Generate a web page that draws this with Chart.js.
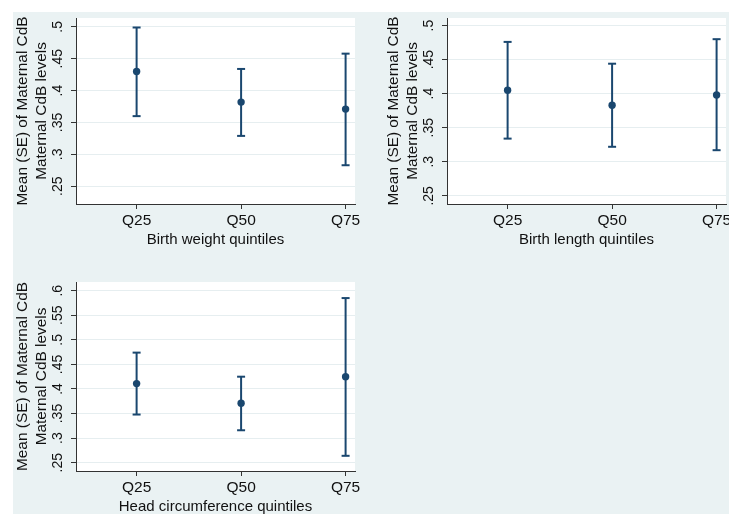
<!DOCTYPE html>
<html>
<head>
<meta charset="utf-8">
<script src="https://cdn.jsdelivr.net/npm/chart.js@4.4.0/dist/chart.umd.min.js"></script>
<style>
html, body { margin: 0; padding: 0; background: #fff; overflow: hidden; width: 729px; height: 514px; }
#bg { position: absolute; left: 13px; top: 12px; right: 0; bottom: 0; background: #eaf2f3; }
canvas { position: absolute; }
</style>
</head>
<body>
<div id="bg"></div>
<canvas id="c1" width="357" height="251" style="left:13px;top:12px"></canvas>
<canvas id="c2" width="360" height="251" style="left:384px;top:12px"></canvas>
<canvas id="c3" width="357" height="260" style="left:13px;top:270px"></canvas>
<script>
// categories on the x axis
const quintiles = ['Q25', 'Q50', 'Q75'];

// birth weight panel: mean and mean -/+ SE
const bwMean = [0.430, 0.382, 0.371];
const bwLow  = [0.360, 0.329, 0.283];
const bwHigh = [0.499, 0.434, 0.458];

// birth length panel
const blMean = [0.405, 0.383, 0.398];
const blLow  = [0.334, 0.322, 0.317];
const blHigh = [0.476, 0.444, 0.480];

// head circumference panel
const hcMean = [0.411, 0.371, 0.425];
const hcLow  = [0.348, 0.316, 0.264];
const hcHigh = [0.474, 0.425, 0.585];

// y tick values
const yTicksShort = [0.25, 0.3, 0.35, 0.4, 0.45, 0.5];
const yTicksLong  = [0.25, 0.3, 0.35, 0.4, 0.45, 0.5, 0.55, 0.6];

const navy = '#1a476f';
const axisColor = '#333';
const fontFamily = '"Liberation Sans", Arial, sans-serif';

// white plot region on the blue-grey graph background
const plotBg = {
    id: 'plotBg',
    beforeDraw(chart) {
        const {ctx, chartArea: a} = chart;
        ctx.save();
        ctx.fillStyle = '#fff';
        ctx.fillRect(a.left, a.top, a.right - a.left, a.bottom - a.top);
        ctx.restore();
    }
};

function makeChart(id, means, lows, highs, yTicks, yMin, yMax, xTitle, pad) {
    const datasets = [];
    // one dataset per whisker, caps drawn with the 'line' point style
    quintiles.forEach((q, i) => {
        datasets.push({
            data: [{x: i + 1, y: lows[i]}, {x: i + 1, y: highs[i]}],
            showLine: true,
            borderColor: navy,
            borderWidth: 2,
            pointStyle: 'line',
            pointRadius: 4,
            pointBorderWidth: 2,
            pointBorderColor: navy
        });
    });
    // means
    datasets.push({
        data: means.map((m, i) => ({x: i + 1, y: m})),
        showLine: false,
        pointStyle: 'circle',
        pointRadius: 3.7,
        pointBorderWidth: 0,
        pointBackgroundColor: navy
    });

    return new Chart(document.getElementById(id), {
        type: 'scatter',
        data: {datasets: datasets},
        plugins: [plotBg],
        options: {
            responsive: false,
            animation: false,
            events: [],
            layout: {padding: pad},
            plugins: {legend: {display: false}, tooltip: {enabled: false}},
            scales: {
                x: {
                    type: 'linear',
                    min: 0.42,
                    max: 3.09,
                    afterBuildTicks: s => { s.ticks = quintiles.map((q, i) => ({value: i + 1})); },
                    afterFit: s => { s.height = 59; s.paddingLeft = 0; s.paddingRight = 0; },
                    ticks: {
                        callback: v => quintiles[v - 1],
                        autoSkip: false,
                        maxRotation: 0,
                        padding: 2,
                        color: '#111',
                        font: {family: fontFamily, size: 15.5}
                    },
                    grid: {drawOnChartArea: false, tickLength: 5, tickColor: axisColor},
                    border: {color: axisColor, width: 1},
                    title: {
                        display: true,
                        text: xTitle,
                        color: '#111',
                        font: {family: fontFamily, size: 15},
                        padding: {top: 0, bottom: 14}
                    }
                },
                y: {
                    min: yMin,
                    max: yMax,
                    afterBuildTicks: s => { s.ticks = yTicks.map(v => ({value: v})); },
                    afterFit: s => { s.width = 63; s.paddingTop = 0; s.paddingBottom = 0; },
                    ticks: {
                        callback: v => String(v).replace(/^0/, ''),
                        autoSkip: false,
                        minRotation: 90,
                        maxRotation: 90,
                        crossAlign: 'center',
                        padding: 3,
                        color: '#111',
                        font: {family: fontFamily, size: 14}
                    },
                    grid: {color: '#e6eef0', tickLength: 5, tickColor: axisColor},
                    border: {color: axisColor, width: 1},
                    title: {
                        display: true,
                        text: ['Mean (SE) of Maternal CdB', 'Maternal CdB levels'],
                        color: '#111',
                        font: {family: fontFamily, size: 15.4, lineHeight: '19px'},
                        padding: {top: 0, bottom: 0}
                    }
                }
            }
        }
    });
}

makeChart('c1', bwMean, bwLow, bwHigh, yTicksShort, 0.2222, 0.5139, 'Birth weight quintiles', {top: 3, right: 15, bottom: 0, left: 0});
makeChart('c2', blMean, blLow, blHigh, yTicksShort, 0.238, 0.5111, 'Birth length quintiles', {top: 3, right: 18, bottom: 0, left: 0});
makeChart('c3', hcMean, hcLow, hcHigh, yTicksLong, 0.2331, 0.6177, 'Head circumference quintiles', {top: 12, right: 15, bottom: 0, left: 0});
</script>
</body>
</html>
